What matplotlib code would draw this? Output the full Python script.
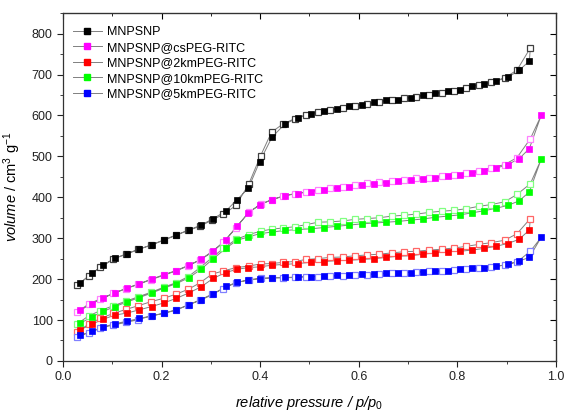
import numpy as np
import matplotlib
matplotlib.use("Agg")
import matplotlib.pyplot as plt
from matplotlib.ticker import MultipleLocator

plt.rcParams['font.family'] = ['Liberation Sans', 'DejaVu Sans']
plt.rcParams['mathtext.fontset'] = 'custom'
plt.rcParams['mathtext.rm'] = 'Liberation Sans'
plt.rcParams['mathtext.it'] = 'Liberation Sans:italic'

# relative pressure points (adsorption up, desorption down)
ads_p = [0.035, 0.059, 0.082, 0.105, 0.130, 0.155, 0.180, 0.205, 0.230, 0.255,
         0.280, 0.305, 0.330, 0.353, 0.376, 0.399, 0.424, 0.450, 0.476, 0.503,
         0.529, 0.556, 0.580, 0.606, 0.631, 0.656, 0.680, 0.705, 0.730, 0.755,
         0.780, 0.805, 0.830, 0.854, 0.878, 0.902, 0.925, 0.946, 0.970]
des_p = [0.948, 0.921, 0.896, 0.868, 0.844, 0.818, 0.793, 0.768, 0.743, 0.717,
         0.692, 0.667, 0.642, 0.617, 0.592, 0.567, 0.542, 0.517, 0.493, 0.470,
         0.447, 0.423, 0.401, 0.377, 0.351, 0.325, 0.302, 0.278, 0.254, 0.229,
         0.204, 0.179, 0.153, 0.128, 0.102, 0.076, 0.052, 0.028]

names = ['MNPSNP', 'MNPSNP@csPEG-RITC', 'MNPSNP@2kmPEG-RITC',
         'MNPSNP@10kmPEG-RITC', 'MNPSNP@5kmPEG-RITC']

ads_black = [190, 215, 234, 251, 262, 273, 284, 296, 308, 320, 332, 348, 366, 394, 422,
             487, 547, 579, 594, 604, 612, 617, 622, 626, 632, 637, 639, 643, 649, 654,
             659, 663, 671, 677, 684, 693, 710, 733]
des_black = [765, 711, 692, 681, 675, 668, 661, 656, 651, 646, 642, 638, 634, 629, 624,
             619, 614, 609, 602, 592, 580, 559, 502, 433, 380, 358, 344, 329, 319, 307,
             295, 283, 273, 261, 249, 229, 207, 185]

ads_cs = [124, 140, 154, 166, 178, 189, 200, 211, 221, 234, 248, 268, 295, 329, 362,
          382, 394, 404, 409, 414, 418, 422, 426, 430, 433, 436, 439, 443, 445, 448,
          451, 455, 459, 464, 471, 480, 494, 519, 600]
des_cs = [543, 497, 480, 472, 465, 460, 455, 451, 448, 446, 443, 440, 437, 434, 430,
          426, 422, 418, 413, 409, 403, 394, 383, 363, 326, 290, 267, 247, 232, 220,
          209, 199, 187, 177, 165, 152, 139, 119]

ads_2k = [76, 90, 102, 112, 117, 125, 133, 142, 153, 166, 181, 202, 216, 224, 228,
          230, 234, 236, 238, 241, 243, 245, 246, 248, 250, 253, 256, 257, 261, 264,
          267, 268, 271, 275, 280, 287, 297, 320]
des_2k = [348, 311, 295, 289, 285, 280, 276, 273, 271, 268, 267, 264, 261, 259, 257,
          254, 253, 250, 248, 243, 241, 238, 237, 232, 228, 220, 212, 191, 175, 163,
          153, 145, 135, 126, 116, 104, 90, 70]

ads_10k = [92, 108, 121, 133, 144, 155, 166, 178, 189, 203, 224, 250, 275, 295, 303,
           311, 315, 319, 321, 323, 326, 329, 332, 335, 337, 339, 341, 344, 347, 351,
           354, 357, 362, 367, 373, 380, 391, 413, 493]
des_10k = [433, 407, 389, 382, 378, 372, 368, 366, 363, 359, 356, 354, 350, 348, 346,
           342, 340, 339, 333, 328, 325, 322, 317, 309, 297, 275, 252, 228, 206, 191,
           180, 168, 157, 146, 135, 123, 110, 90]

ads_5k = [63, 72, 83, 91, 97, 104, 110, 117, 125, 137, 149, 163, 182, 192, 198,
          201, 203, 204, 205, 206, 207, 209, 210, 212, 213, 214, 215, 216, 218, 219,
          221, 224, 226, 228, 231, 236, 244, 253, 302]
des_5k = [268, 242, 234, 230, 227, 224, 222, 220, 219, 217, 216, 214, 213, 211, 210,
          208, 207, 206, 206, 204, 203, 203, 202, 198, 191, 177, 163, 149, 137, 124,
          116, 110, 101, 94, 88, 80, 69, 58]

ads_all = [ads_black, ads_cs, ads_2k, ads_10k, ads_5k]
des_all = [des_black, des_cs, des_2k, des_10k, des_5k]
colors = ['#000000', '#ff00ff', '#ff0000', '#00ff00', '#0000ff']
open_edges = ['#404040', '#ff80ff', '#ff6666', '#80ff80', '#8080ff']

fig = plt.figure(figsize=(5.65, 4.12), dpi=100)
ax = fig.add_axes([0.1115, 0.124, 0.8725, 0.844])

ms = 4.9
for name, ya, yd, c, ce in zip(names, ads_all, des_all, colors, open_edges):
    pa = ads_p[:len(ya)]
    xs = list(pa) + list(des_p)
    ys = list(ya) + list(yd)
    ax.plot(xs, ys, '-', color='#808080', lw=0.7, zorder=1)
    ax.plot(des_p, yd, 's', ms=ms, mfc='white', mec=ce, mew=0.9, ls='none', zorder=2)
    ax.plot(pa, ya, 's', ms=ms, mfc=c, mec=c, mew=0.5, ls='none', zorder=3)
    # legend proxy
    ax.plot([], [], '-s', color='#808080', lw=0.7, ms=ms, mfc=c, mec=c, label=name)

ax.set_xlim(0, 1.0)
ax.set_ylim(0, 850)
ax.xaxis.set_major_locator(MultipleLocator(0.2))
ax.xaxis.set_minor_locator(MultipleLocator(0.1))
ax.yaxis.set_major_locator(MultipleLocator(100))
ax.yaxis.set_minor_locator(MultipleLocator(50))
ax.tick_params(which='both', direction='out', labelsize=9, colors='#222222')
ax.tick_params(which='major', length=4)
ax.tick_params(which='minor', length=2.5)
for s in ax.spines.values():
    s.set_color('#333333')
    s.set_linewidth(0.9)

top = ax.secondary_xaxis('top')
top.xaxis.set_major_locator(MultipleLocator(0.2))
top.xaxis.set_minor_locator(MultipleLocator(0.1))
top.tick_params(which='both', direction='in', labeltop=False)
top.tick_params(which='major', length=4)
top.tick_params(which='minor', length=2.5)
right = ax.secondary_yaxis('right')
right.yaxis.set_major_locator(MultipleLocator(100))
right.yaxis.set_minor_locator(MultipleLocator(50))
right.tick_params(which='both', direction='in', labelright=False)
right.tick_params(which='major', length=4)
right.tick_params(which='minor', length=2.5)

ax.set_xlabel(r'relative pressure / p/p$_\mathrm{0}$', fontsize=10.5, style='italic',
              labelpad=8)
ax.set_ylabel(r'$\it{volume}$ / cm$^3$ g$^{-1}$', fontsize=10.5, labelpad=6)

ax.legend(loc='upper left', bbox_to_anchor=(0.0101, 0.977), frameon=False,
          fontsize=9, handlelength=2.3, handletextpad=0.4, labelspacing=0.28,
          borderaxespad=0)

fig.savefig('out.png', dpi=100)
